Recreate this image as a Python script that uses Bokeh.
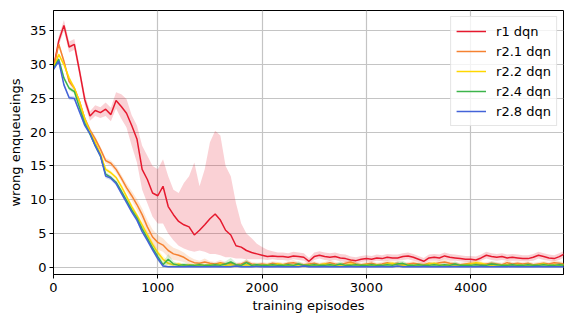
from bokeh.plotting import figure
from bokeh.models import Range1d, Legend, LegendItem, FixedTicker
from bokeh.embed import file_html
from bokeh.resources import INLINE

# ---------------- data ----------------
episodes = list(range(0, 4901, 50))

x_ticks = [0, 1000, 2000, 3000, 4000]
y_ticks = [0, 5, 10, 15, 20, 25, 30, 35]

labels = ["r1 dqn", "r2.1 dqn", "r2.2 dqn", "r2.4 dqn", "r2.8 dqn"]
colors = ["#e6192e", "#f58231", "#ffd700", "#3cb44b", "#4363d8"]

r1_mean = [
    29.5, 33.5, 35.8, 32.6, 33.0, 29.0, 24.8, 22.4, 23.2, 22.9,
    23.4, 22.6, 24.7, 23.8, 22.8, 21.0, 19.0, 14.5, 13.0, 11.0,
    10.6, 12.0, 9.0, 7.8, 6.8, 6.3, 6.0, 4.8, 5.5, 6.3,
    7.2, 7.9, 7.0, 5.5, 4.8, 3.2, 3.0, 2.5, 2.2, 2.0,
    1.8, 1.6, 1.7, 1.6, 1.6, 1.5, 1.7, 1.6, 1.5, 0.9,
    1.6, 1.8, 1.6, 1.5, 1.6, 1.4, 1.3, 1.1, 1.0, 1.2,
    1.3, 1.2, 1.4, 1.3, 1.5, 1.4, 1.4, 1.6, 1.7, 1.5,
    1.2, 0.9, 1.4, 1.5, 1.4, 1.7, 1.5, 1.4, 1.3, 1.2,
    1.2, 1.1, 1.4, 1.8, 1.6, 1.5, 1.6, 1.4, 1.5, 1.4,
    1.3, 1.3, 1.5, 1.8, 1.6, 1.4, 1.3, 1.6, 2.0,
]
r1_low = [
    29.0, 32.8, 35.0, 31.8, 32.2, 28.2, 24.0, 21.7, 22.4, 22.1,
    22.4, 21.6, 23.5, 22.0, 20.7, 18.0, 15.5, 11.5, 9.5, 7.5,
    6.5, 6.5, 5.0, 4.0, 3.2, 2.8, 2.5, 2.3, 2.5, 2.3,
    2.0, 2.0, 1.8, 1.5, 1.5, 1.3, 1.3, 1.2, 1.2, 1.2,
    1.2, 1.1, 1.2, 1.1, 1.1, 1.0, 1.2, 1.1, 1.0, 0.5,
    1.1, 1.3, 1.1, 1.0, 1.1, 0.9, 0.8, 0.7, 0.6, 0.8,
    0.9, 0.8, 1.0, 0.9, 1.0, 1.0, 1.0, 1.1, 1.2, 1.0,
    0.8, 0.5, 1.0, 1.0, 1.0, 1.2, 1.0, 1.0, 0.9, 0.8,
    0.8, 0.7, 1.0, 1.3, 1.1, 1.0, 1.1, 1.0, 1.0, 1.0,
    0.9, 0.9, 1.0, 1.3, 1.1, 1.0, 0.9, 1.1, 1.5,
]
r1_high = [
    30.0, 34.2, 36.6, 33.4, 33.8, 29.8, 25.6, 23.1, 24.0, 23.7,
    24.4, 23.6, 25.9, 25.6, 24.9, 22.5, 21.0, 18.0, 16.5, 15.0,
    14.5, 16.0, 13.5, 11.5, 11.0, 12.5, 13.5, 15.5, 12.0, 14.5,
    18.5, 20.2, 19.5, 15.0, 13.5, 9.5, 6.5, 5.0, 4.3, 3.5,
    3.0, 2.6, 2.4, 2.2, 2.2, 2.1, 2.3, 2.2, 2.1, 1.4,
    2.2, 2.4, 2.2, 2.1, 2.2, 2.0, 1.9, 1.6, 1.5, 1.7,
    1.8, 1.7, 1.9, 1.8, 2.0, 1.9, 1.9, 2.1, 2.2, 2.0,
    1.7, 1.4, 1.9, 2.0, 1.9, 2.2, 2.0, 1.9, 1.8, 1.7,
    1.7, 1.6, 1.9, 2.3, 2.1, 2.0, 2.1, 1.9, 2.0, 1.9,
    1.8, 1.8, 2.0, 2.3, 2.1, 1.9, 1.8, 2.1, 2.5,
]

r21_mean = [
    29.5, 33.0, 30.5, 27.5, 26.5, 24.5, 22.0, 20.3, 19.0, 17.5,
    15.8, 15.4, 14.5, 13.2, 11.8, 10.6, 9.3, 7.8, 6.0, 4.5,
    3.7, 3.3, 2.5, 2.0, 1.8, 1.5, 1.0, 0.7, 0.6, 0.8,
    0.6, 0.5, 0.7, 0.5, 0.6, 0.4, 0.5, 0.8, 0.5, 0.4,
    0.5, 0.4, 0.6, 0.5, 0.4, 0.6, 0.7, 0.5, 0.4, 0.5,
    0.6, 0.4, 0.5, 0.7, 0.5, 0.4, 0.6, 0.8, 0.5, 0.4,
    0.5, 0.6, 0.4, 0.5, 0.7, 0.5, 0.6, 0.4, 0.5, 0.6,
    0.5, 0.4, 0.6, 0.5, 0.7, 0.8, 0.6, 0.5, 0.4, 0.5,
    0.6, 0.5, 0.4, 0.5, 0.6, 0.5, 0.4, 0.7, 0.5, 0.6,
    0.5, 0.6, 0.4, 0.5, 0.6, 0.5, 0.7, 0.6, 0.5,
]
r21_spread = [
    0.3, 0.4, 0.4, 0.4, 0.4, 0.4, 0.4, 0.4, 0.4, 0.4,
    0.4, 0.4, 0.5, 0.5, 0.6, 0.7, 0.8, 0.9, 1.0, 1.1,
    1.1, 1.0, 1.0, 0.9, 0.8, 0.7, 0.6, 0.5, 0.4, 0.5,
    0.3, 0.3, 0.4, 0.3, 0.3, 0.3, 0.3, 0.4, 0.3, 0.3,
    0.3, 0.3, 0.3, 0.3, 0.3, 0.3, 0.4, 0.3, 0.3, 0.3,
    0.3, 0.3, 0.3, 0.4, 0.3, 0.3, 0.3, 0.4, 0.3, 0.3,
    0.3, 0.3, 0.3, 0.3, 0.4, 0.3, 0.3, 0.3, 0.3, 0.3,
    0.3, 0.3, 0.3, 0.3, 0.4, 0.4, 0.3, 0.3, 0.3, 0.3,
    0.3, 0.3, 0.3, 0.3, 0.3, 0.3, 0.3, 0.4, 0.3, 0.3,
    0.3, 0.3, 0.3, 0.3, 0.3, 0.3, 0.4, 0.3, 0.3,
]

r22_mean = [
    29.5, 31.5, 30.0, 28.0, 26.5, 24.5, 22.0, 20.0, 18.5, 16.8,
    14.5, 14.0, 13.3, 12.0, 10.5, 9.0, 7.7, 6.3, 4.8, 3.4,
    2.2, 1.2, 0.6, 0.4, 0.5, 0.3, 0.4, 0.3, 0.4, 0.3,
    0.4, 0.3, 0.5, 0.3, 0.4, 0.3, 0.3, 0.4, 0.3, 0.4,
    0.3, 0.4, 0.3, 0.5, 0.4, 0.3, 0.3, 0.4, 0.3, 0.4,
    0.3, 0.4, 0.5, 0.4, 0.3, 0.4, 0.3, 0.5, 0.4, 0.3,
    0.4, 0.3, 0.4, 0.3, 0.5, 0.6, 0.4, 0.3, 0.4, 0.3,
    0.4, 0.3, 0.5, 0.6, 0.4, 0.3, 0.4, 0.3, 0.3, 0.4,
    0.5, 0.7, 0.6, 0.4, 0.3, 0.4, 0.3, 0.4, 0.3, 0.4,
    0.3, 0.4, 0.3, 0.4, 0.5, 0.3, 0.4, 0.3, 0.4,
]
r22_spread = [
    0.3, 0.3, 0.3, 0.3, 0.3, 0.3, 0.3, 0.3, 0.3, 0.3,
    0.3, 0.3, 0.3, 0.4, 0.4, 0.4, 0.4, 0.5, 0.5, 0.5,
    0.5, 0.5, 0.4, 0.3, 0.3, 0.2, 0.2, 0.2, 0.2, 0.2,
    0.2, 0.2, 0.3, 0.2, 0.2, 0.2, 0.2, 0.2, 0.2, 0.2,
    0.2, 0.2, 0.2, 0.3, 0.2, 0.2, 0.2, 0.2, 0.2, 0.2,
    0.2, 0.2, 0.3, 0.2, 0.2, 0.2, 0.2, 0.3, 0.2, 0.2,
    0.2, 0.2, 0.2, 0.2, 0.3, 0.3, 0.2, 0.2, 0.2, 0.2,
    0.2, 0.2, 0.3, 0.3, 0.2, 0.2, 0.2, 0.2, 0.2, 0.2,
    0.3, 0.4, 0.3, 0.2, 0.2, 0.2, 0.2, 0.2, 0.2, 0.2,
    0.2, 0.2, 0.2, 0.2, 0.3, 0.2, 0.2, 0.2, 0.2,
]

r24_mean = [
    29.4, 30.8, 28.0, 26.5, 26.0, 23.6, 21.3, 19.7, 18.0, 16.5,
    13.8, 13.3, 12.6, 11.3, 9.9, 8.5, 7.3, 5.7, 4.3, 2.9,
    1.6, 0.4, 1.2, 0.5, 0.3, 0.4, 0.3, 0.3, 0.4, 0.3,
    0.3, 0.4, 0.3, 0.5, 0.8, 0.4, 0.3, 0.7, 0.3, 0.4,
    0.3, 0.3, 0.4, 0.3, 0.3, 0.4, 0.3, 0.5, 0.3, 0.3,
    0.4, 0.3, 0.3, 0.4, 0.3, 0.5, 0.3, 0.3, 0.4, 0.3,
    0.3, 0.4, 0.3, 0.3, 0.4, 0.3, 0.5, 0.6, 0.3, 0.3,
    0.4, 0.3, 0.3, 0.4, 0.3, 0.4, 0.3, 0.5, 0.3, 0.3,
    0.3, 0.4, 0.3, 0.3, 0.5, 0.4, 0.3, 0.3, 0.4, 0.3,
    0.3, 0.4, 0.3, 0.3, 0.4, 0.3, 0.3, 0.4, 0.3,
]
r24_spread = [
    0.3, 0.3, 0.3, 0.3, 0.3, 0.3, 0.3, 0.3, 0.3, 0.3,
    0.3, 0.3, 0.3, 0.3, 0.3, 0.3, 0.4, 0.4, 0.4, 0.5,
    0.6, 0.4, 0.8, 0.4, 0.2, 0.3, 0.2, 0.2, 0.3, 0.2,
    0.2, 0.3, 0.2, 0.4, 0.6, 0.3, 0.2, 0.5, 0.2, 0.3,
    0.2, 0.2, 0.3, 0.2, 0.2, 0.3, 0.2, 0.4, 0.2, 0.2,
    0.3, 0.2, 0.2, 0.3, 0.2, 0.4, 0.2, 0.2, 0.3, 0.2,
    0.2, 0.3, 0.2, 0.2, 0.3, 0.2, 0.4, 0.4, 0.2, 0.2,
    0.3, 0.2, 0.2, 0.3, 0.2, 0.3, 0.2, 0.4, 0.2, 0.2,
    0.2, 0.3, 0.2, 0.2, 0.4, 0.3, 0.2, 0.2, 0.3, 0.2,
    0.2, 0.3, 0.2, 0.2, 0.3, 0.2, 0.2, 0.3, 0.2,
]

r28_mean = [
    29.3, 30.5, 27.0, 25.1, 25.0, 23.0, 21.0, 19.8, 18.0, 16.5,
    13.5, 13.2, 12.4, 11.0, 9.6, 8.2, 7.0, 5.3, 4.0, 2.6,
    1.3, 0.2, 0.1, 0.1, 0.1, 0.1, 0.15, 0.1, 0.1, 0.1,
    0.1, 0.15, 0.1, 0.1, 0.1, 0.2, 0.1, 0.1, 0.1, 0.15,
    0.1, 0.1, 0.1, 0.15, 0.1, 0.1, 0.1, 0.1, 0.2, 0.1,
    0.1, 0.1, 0.15, 0.1, 0.1, 0.1, 0.1, 0.15, 0.1, 0.1,
    0.1, 0.1, 0.1, 0.15, 0.1, 0.1, 0.2, 0.1, 0.1, 0.1,
    0.1, 0.15, 0.1, 0.1, 0.1, 0.1, 0.1, 0.15, 0.1, 0.1,
    0.1, 0.1, 0.15, 0.1, 0.1, 0.1, 0.1, 0.1, 0.15, 0.1,
    0.1, 0.1, 0.1, 0.15, 0.1, 0.1, 0.1, 0.1, 0.1,
]
r28_spread = [
    0.2, 0.3, 0.3, 0.3, 0.3, 0.3, 0.3, 0.3, 0.3, 0.3,
    0.3, 0.3, 0.3, 0.3, 0.3, 0.3, 0.3, 0.3, 0.3, 0.3,
    0.3, 0.15, 0.1, 0.1, 0.1, 0.1, 0.1, 0.1, 0.1, 0.1,
    0.1, 0.1, 0.1, 0.1, 0.1, 0.1, 0.1, 0.1, 0.1, 0.1,
    0.1, 0.1, 0.1, 0.1, 0.1, 0.1, 0.1, 0.1, 0.1, 0.1,
    0.1, 0.1, 0.1, 0.1, 0.1, 0.1, 0.1, 0.1, 0.1, 0.1,
    0.1, 0.1, 0.1, 0.1, 0.1, 0.1, 0.1, 0.1, 0.1, 0.1,
    0.1, 0.1, 0.1, 0.1, 0.1, 0.1, 0.1, 0.1, 0.1, 0.1,
    0.1, 0.1, 0.1, 0.1, 0.1, 0.1, 0.1, 0.1, 0.1, 0.1,
    0.1, 0.1, 0.1, 0.1, 0.1, 0.1, 0.1, 0.1, 0.1,
]

x_label = "training episodes"
y_label = "wrong enqueueings"

# ---------------- figure ----------------
FONT = "DejaVu Sans"

p = figure(
    width=564, height=318,
    output_backend="svg", toolbar_location=None,
    x_range=Range1d(0, 4890), y_range=Range1d(-1.05, 38.0),
    min_border_left=53, min_border_right=1,
    min_border_top=10, min_border_bottom=44,
)
p.background_fill_color = "white"
p.border_fill_color = "white"
p.outline_line_color = "black"
p.outline_line_width = 1

p.xaxis.ticker = FixedTicker(ticks=x_ticks)
p.yaxis.ticker = FixedTicker(ticks=y_ticks)
p.xgrid.ticker = FixedTicker(ticks=x_ticks)
p.ygrid.ticker = FixedTicker(ticks=y_ticks)
p.grid.grid_line_color = "#c4c4c4"
p.grid.grid_line_width = 1.2

for ax in (p.xaxis[0], p.yaxis[0]):
    ax.axis_line_color = "black"
    ax.major_tick_line_color = "black"
    ax.major_tick_out = 4
    ax.major_tick_in = 0
    ax.minor_tick_line_color = None
    ax.major_label_text_font = FONT
    ax.major_label_text_font_size = "13px"
    ax.major_label_text_color = "black"
    ax.axis_label_text_font = FONT
    ax.axis_label_text_font_size = "13px"
    ax.axis_label_text_font_style = "normal"
    ax.axis_label_text_color = "black"

p.xaxis.axis_label = x_label
p.yaxis.axis_label = y_label
p.xaxis.major_label_standoff = 4
p.xaxis.axis_label_standoff = 3
p.yaxis.major_label_standoff = 3
p.yaxis.axis_label_standoff = 4

series = [
    (r1_mean, r1_low, r1_high),
    (r21_mean, [m - s for m, s in zip(r21_mean, r21_spread)], [m + s for m, s in zip(r21_mean, r21_spread)]),
    (r22_mean, [m - s for m, s in zip(r22_mean, r22_spread)], [m + s for m, s in zip(r22_mean, r22_spread)]),
    (r24_mean, [m - s for m, s in zip(r24_mean, r24_spread)], [m + s for m, s in zip(r24_mean, r24_spread)]),
    (r28_mean, [m - s for m, s in zip(r28_mean, r28_spread)], [m + s for m, s in zip(r28_mean, r28_spread)]),
]

items = []
for (mean, low, high), lab, col in zip(series, labels, colors):
    p.varea(x=episodes, y1=low, y2=high, fill_color=col, fill_alpha=0.2)
    r = p.line(x=episodes, y=mean, line_color=col, line_width=1.5)
    items.append(LegendItem(label=lab, renderers=[r]))

legend = Legend(
    items=items, location="top_right",
    label_text_font=FONT, label_text_font_size="13px", label_text_color="black",
    glyph_width=30, glyph_height=18, label_height=18, spacing=2,
    padding=5, margin=6, label_standoff=10,
    border_line_color="#cccccc", border_line_width=1,
    background_fill_color="white", background_fill_alpha=0.8,
)
p.add_layout(legend)

open("out.html", "w").write(file_html(p, INLINE))
